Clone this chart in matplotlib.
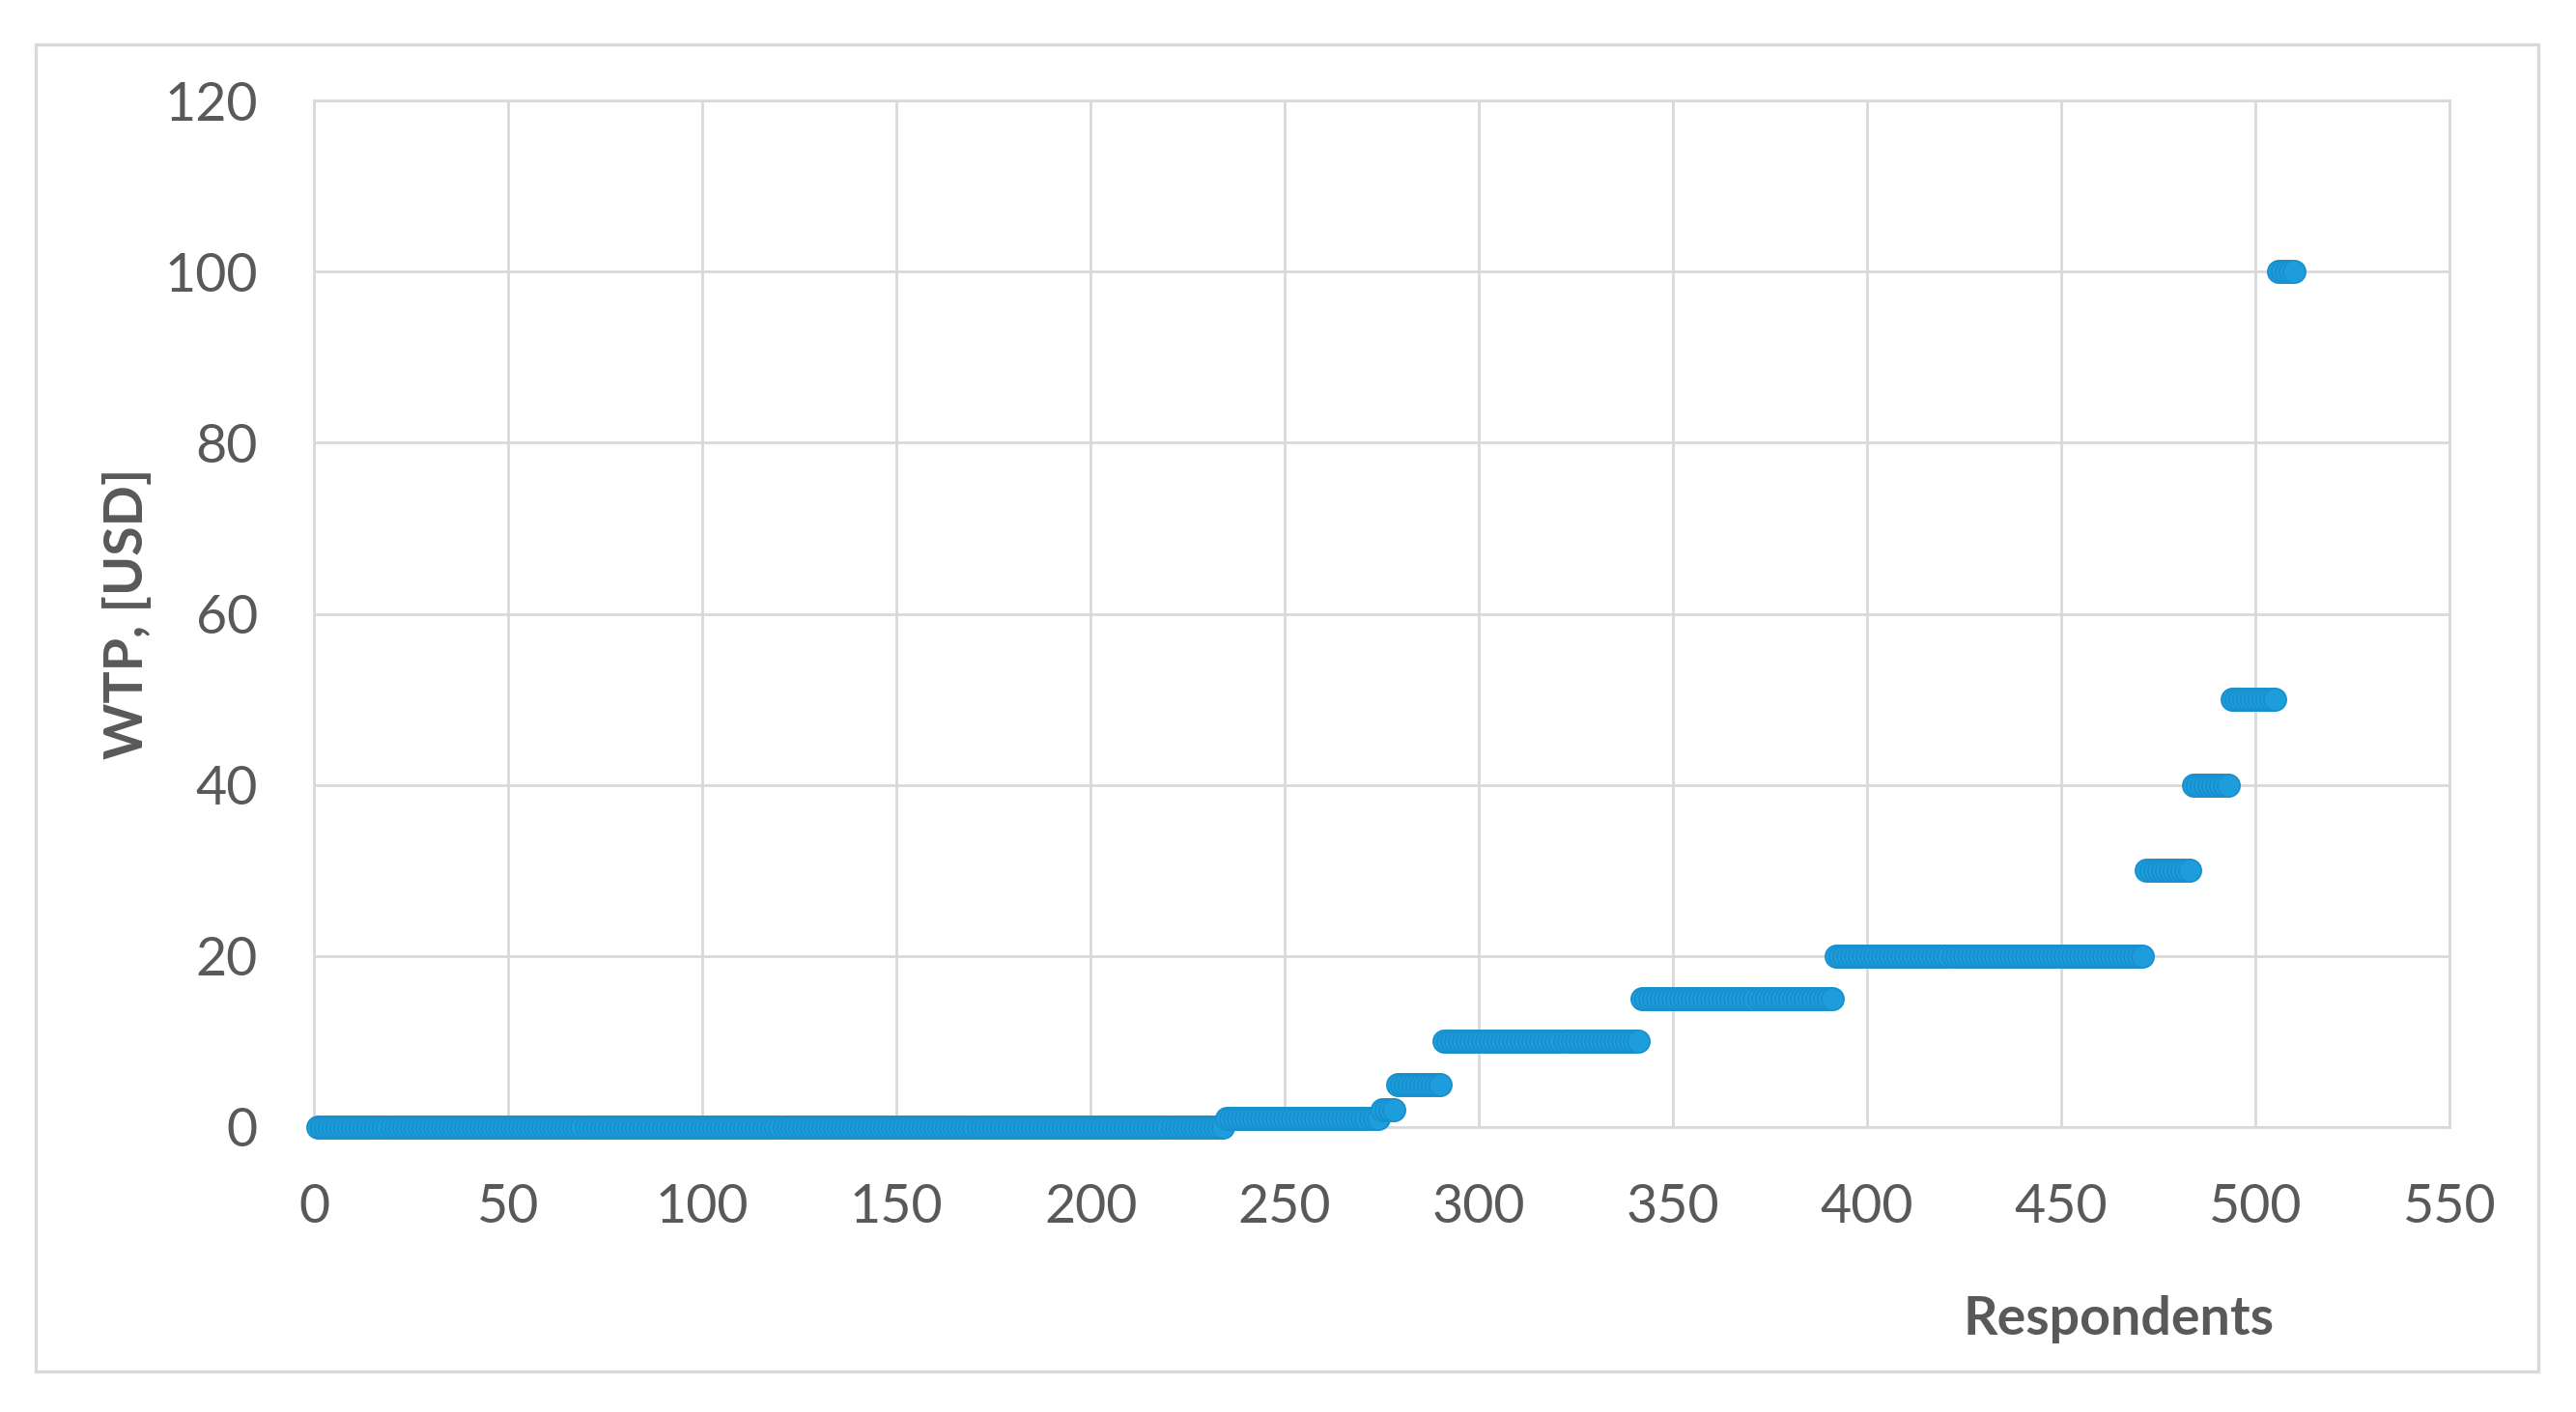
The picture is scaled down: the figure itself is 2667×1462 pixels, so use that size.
import numpy as np
import matplotlib
matplotlib.use("Agg")
import matplotlib.pyplot as plt
from matplotlib.patches import Rectangle

# WTP levels and how many respondents gave each one
wtp_levels = [0, 1, 2, 5, 10, 15, 20, 30, 40, 50, 100]
level_counts = [234, 40, 4, 12, 51, 50, 80, 12, 10, 12, 5]

x_ticks = [0, 50, 100, 150, 200, 250, 300, 350, 400, 450, 500, 550]
y_ticks = [0, 20, 40, 60, 80, 100, 120]

wtp = np.repeat(wtp_levels, level_counts)
respondents = np.arange(1, len(wtp) + 1)

plt.rcParams['font.family'] = ['Lato', 'DejaVu Sans']

fig = plt.figure(figsize=(13.335, 7.31), dpi=200)
ax = fig.add_axes([0.1219, 0.2018, 0.829, 0.727])

# light frame around the whole chart, like the Excel chart area
fig.patches.append(Rectangle((37 / 2667, 1 - 1420 / 1462), (2628 - 37) / 2667,
                             (1420 - 46) / 1462, transform=fig.transFigure,
                             fill=False, edgecolor='#D9D9D9', linewidth=1.2))

ax.scatter(respondents, wtp, s=70, color='#1D9DDC', edgecolors='#178FCC',
           linewidths=0.6, zorder=3, clip_on=False)

ax.set_xlim(0, 550)
ax.set_ylim(0, 120)
ax.set_xticks(x_ticks)
ax.set_yticks(y_ticks)
ax.grid(True, color='#D9D9D9', linewidth=1.0)
ax.set_axisbelow(True)
for side in ax.spines.values():
    side.set_color('#D9D9D9')
    side.set_linewidth(1.0)
ax.tick_params(length=0, labelsize=20, labelcolor='#595959')
ax.tick_params(axis='x', pad=21)
ax.tick_params(axis='y', pad=21)

ax.set_ylabel('WTP, [USD]', fontsize=20, fontweight='bold', color='#595959')
ax.yaxis.set_label_coords(-0.076, 0.5)
ax.set_xlabel('Respondents', fontsize=20, fontweight='bold', color='#595959')
ax.xaxis.set_label_coords(0.845, -0.164)

fig.savefig('out.png', dpi=200)
